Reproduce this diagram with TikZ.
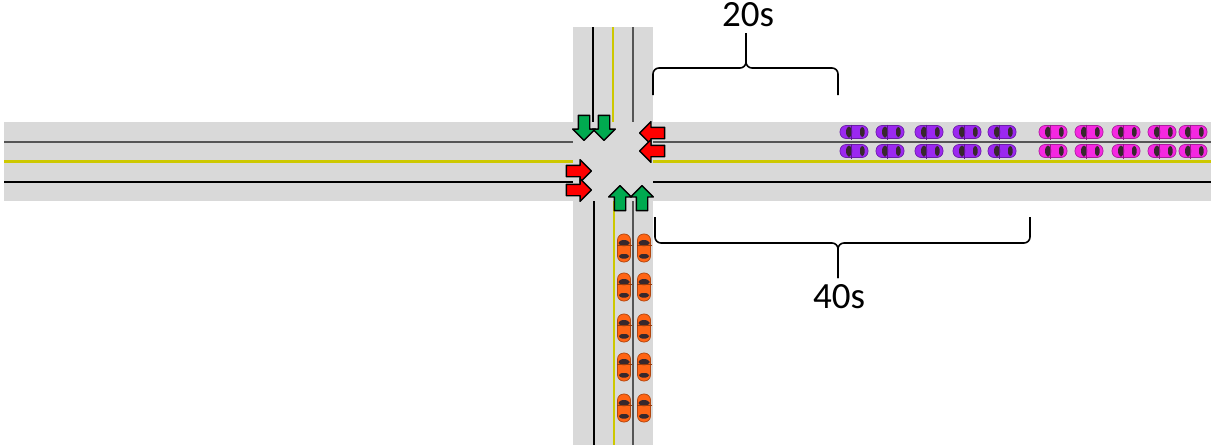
\documentclass[tikz,border=0pt]{standalone}
\usepackage{fontspec}
\setmainfont{Carlito}
\usepackage{tikz}
\usetikzlibrary{shapes.arrows}

\definecolor{road}{RGB}{217,217,217}
\definecolor{midline}{RGB}{205,200,0}
\definecolor{laneline}{RGB}{85,85,85}
\definecolor{go}{RGB}{0,170,80}
\definecolor{stop}{RGB}{255,0,0}
\definecolor{purplecar}{RGB}{155,40,240}
\definecolor{pinkcar}{RGB}{245,40,225}
\definecolor{orangecar}{RGB}{255,100,20}
\definecolor{glass}{RGB}{55,40,45}

\begin{document}
\begin{tikzpicture}
[x=0.5pt, y=-0.5pt, line join=round,
signal/.style={single arrow, draw=black, line width=0.7pt, minimum height=12.5pt,
  inner sep=2.5pt, single arrow head extend=2.8pt, single arrow tip angle=90, outer sep=0pt},
stoparrow/.style={signal, fill=stop},
goarrow/.style={signal, fill=go},
pics/car/.style={code={
  \fill[#1, draw=#1!70!black, line width=0.35pt, rounded corners=3pt] (-14,-6.5) rectangle (14,6.5);
  \fill[glass, rounded corners=2pt] (-8,-5.5) rectangle (-2,5.5);
  \fill[glass, rounded corners=1.5pt] (6,-5) rectangle (10.5,5);
  \draw[#1!60!black, line width=0.2pt] (-3,-7.5) -- (-3,7.5);
}},
brace/.style={line width=0.8pt, rounded corners=3pt},
timetext/.style={font=\fontsize{18.5}{22}\selectfont}
]
  \useasboundingbox (0,0) rectangle (1211,445);

  % roads
  \fill[road] (4,122) rectangle (1211,201);
  \fill[road] (573,27) rectangle (653,445);

  % lane markings
  \draw[laneline, line width=0.8pt] (4,142) -- (573,142) (653,142) -- (1211,142);
  \draw[midline, line width=1.1pt] (4,161.5) -- (573,161.5) (653,161.5) -- (1211,161.5);
  \draw[black, line width=0.6pt] (4,182) -- (573,182) (653,182) -- (1211,182);
  \draw[black, line width=0.6pt] (593,27) -- (593,122) (594,201) -- (594,445);
  \draw[midline, line width=1.1pt] (613,27) -- (613,122) (614,201) -- (614,445);
  \draw[laneline, line width=0.8pt] (633,27) -- (633,122) (633,201) -- (633,445);

  % queues
  \foreach \x in {854,890,929,967,1002}
    \foreach \y in {132,151}
      \pic at (\x,\y) {car=purplecar};
  \foreach \x in {1053,1089,1126,1162,1193}
    \foreach \y in {132,151}
      \pic at (\x,\y) {car=pinkcar};
  \foreach \y in {248,287,328,367,408}
    \foreach \x in {624,644}
      \pic[rotate=-90] at (\x,\y) {car=orangecar};

  % signals
  \node[stoparrow] (w1) at (576,171) {};
  \node[stoparrow] (w2) at (576,190) {};
  \node[stoparrow, shape border rotate=180] (e1) at (655,133) {};
  \node[stoparrow, shape border rotate=180] (e2) at (655,151) {};
  \node[goarrow, shape border rotate=270] (n1) at (584,125) {};
  \node[goarrow, shape border rotate=270] (n2) at (604,125) {};
  \node[goarrow, shape border rotate=90] (s1) at (620,201) {};
  \node[goarrow, shape border rotate=90] (s2) at (642,201) {};

  % timings
  \node[timetext] (t20) at (748,15) {20s};
  \node[timetext] (t40) at (839,297) {40s};
  \draw[brace] (653,95) |- (746,68) -- (746,33);
  \draw[brace] (838,95) |- (746,68) -- (746,33);
  \draw[brace] (655,217) |- (838,243) -- (838,278);
  \draw[brace] (1030,217) |- (838,243) -- (838,278);
\end{tikzpicture}
\end{document}
